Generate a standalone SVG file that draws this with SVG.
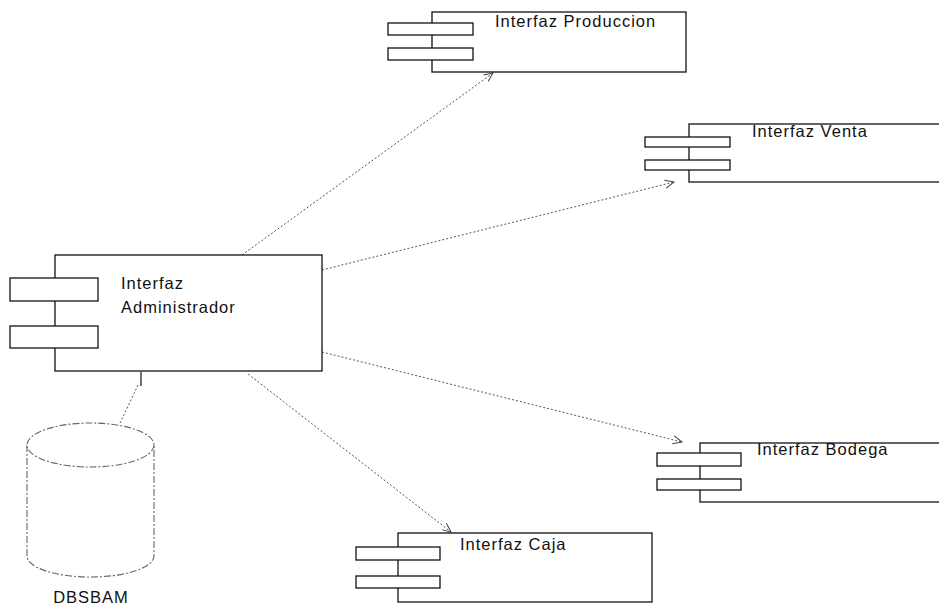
<svg xmlns="http://www.w3.org/2000/svg" width="939" height="608" viewBox="0 0 939 608">
<style>
.box{fill:#fff;stroke:#111;stroke-width:1.3}
.port{fill:#fff;stroke:#111;stroke-width:1.3}
.lbl{font-family:"Liberation Sans",Arial,sans-serif;font-size:16.5px;letter-spacing:1px;fill:#111}
.dep{fill:none;stroke:#555;stroke-width:1;stroke-dasharray:2 2}
.db{fill:#fff;stroke:#666;stroke-width:1.1;stroke-dasharray:7 2 2 2}
</style>
<defs>
<marker id="open" viewBox="0 0 10 10" refX="9" refY="5" markerWidth="10" markerHeight="10" markerUnits="userSpaceOnUse" orient="auto">
<path d="M0,1 L9,5 L0,9" fill="none" stroke="#444" stroke-width="1"/>
</marker>
</defs>
<rect width="939" height="608" fill="#fff"/>

<g id="connectors">
<line class="dep" x1="242" y1="255" x2="493" y2="73" marker-end="url(#open)"/>
<line class="dep" x1="322" y1="270" x2="674" y2="182" marker-end="url(#open)"/>
<line class="dep" x1="322" y1="352" x2="682" y2="442" marker-end="url(#open)"/>
<line class="dep" x1="248" y1="374" x2="451" y2="532" marker-end="url(#open)"/>
<line class="dep" x1="120" y1="423" x2="139" y2="383"/>
<line x1="141" y1="372" x2="141" y2="386" stroke="#111" stroke-width="1.2"/>
</g>

<g id="admin">
<rect class="box" x="55" y="255" width="267" height="116"/>
<rect class="port" x="10" y="278" width="88" height="23"/>
<rect class="port" x="10" y="326" width="88" height="22"/>
<text class="lbl" x="121" y="289">Interfaz</text>
<text class="lbl" x="121" y="313">Administrador</text>
</g>

<g id="produccion">
<rect class="box" x="432" y="12" width="254" height="60"/>
<rect class="port" x="388" y="23" width="85" height="12"/>
<rect class="port" x="388" y="48" width="85" height="12"/>
<text class="lbl" x="495" y="27">Interfaz Produccion</text>
</g>

<g id="venta">
<rect class="box" x="689" y="124" width="280" height="58"/>
<rect class="port" x="645" y="137" width="85" height="10"/>
<rect class="port" x="645" y="160" width="85" height="10"/>
<text class="lbl" x="752" y="137">Interfaz Venta</text>
</g>

<g id="bodega">
<rect class="box" x="700" y="443" width="270" height="59"/>
<rect class="port" x="657" y="453" width="84" height="13"/>
<rect class="port" x="657" y="479" width="84" height="11"/>
<text class="lbl" x="757" y="455">Interfaz Bodega</text>
</g>

<g id="caja">
<rect class="box" x="398" y="533" width="254" height="69"/>
<rect class="port" x="356" y="547" width="84" height="13"/>
<rect class="port" x="356" y="576" width="84" height="12"/>
<text class="lbl" x="460" y="550">Interfaz Caja</text>
</g>

<g id="dbsbam">
<path class="db" d="M27,445 L27,556 A63.5,21 0 0 0 154,556 L154,445"/>
<ellipse class="db" cx="90.5" cy="445" rx="63.5" ry="22"/>
<text class="lbl" x="91" y="603" text-anchor="middle">DBSBAM</text>
</g>
</svg>
